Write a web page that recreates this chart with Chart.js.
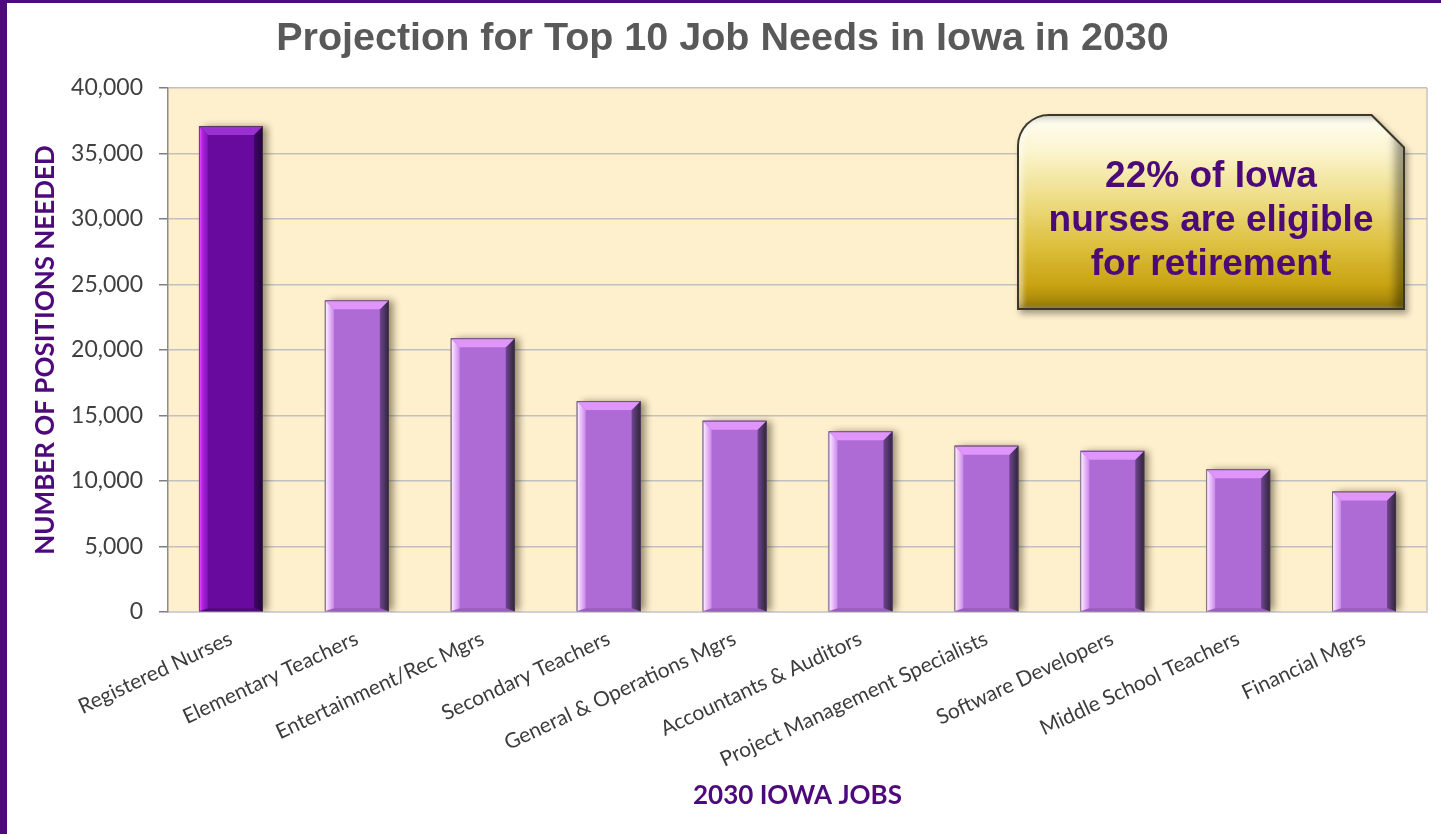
<!DOCTYPE html>
<html>
<head>
<meta charset="utf-8">
<title>Projection for Top 10 Job Needs in Iowa in 2030</title>
<script src="https://cdn.jsdelivr.net/npm/chart.js@4.4.1/dist/chart.umd.min.js"></script>
<style>
  html, body { margin: 0; padding: 0; background: #fff; }
  body { width: 1441px; height: 834px; position: relative; overflow: hidden; }
  #wrap { position: absolute; left: 0; top: 0; width: 1441px; height: 834px; }
  #frame {
    position: absolute; left: 0; top: 0; width: 1441px; height: 834px;
    box-sizing: border-box; border-left: 7px solid #4e0a7c; border-top: 3px solid #4e0a7c;
    pointer-events: none;
  }
  .callout-shadow {
    position: absolute; left: 1017px; top: 114px; width: 388px; height: 196px;
    filter: drop-shadow(3px 4px 3px rgba(0, 0, 0, 0.35));
  }
  .callout {
    width: 100%; height: 100%; box-sizing: border-box; padding: 2px;
    background: #3b382a;
    border-top-left-radius: 32px;
    clip-path: polygon(0 0, calc(100% - 33px) 0, 100% 33px, 100% 100%, 0 100%);
  }
  .callout-inner {
    width: 100%; height: 100%; box-sizing: border-box;
    border-top-left-radius: 30px;
    clip-path: polygon(0 0, calc(100% - 32px) 0, 100% 32px, 100% 100%, 0 100%);
    background: linear-gradient(to bottom, #fffef4 0%, #fbf5d0 18%, #eddb80 45%, #dcbf3c 68%, #c9a312 88%, #9c7e06 100%);
    box-shadow: inset -8px 0 9px rgba(0, 0, 0, 0.38), inset 4px 0 5px rgba(255, 255, 255, 0.5);
    display: flex; align-items: center; justify-content: center;
    padding-top: 14px;
    font: 700 37px "Liberation Sans", Arial, sans-serif;
    line-height: 44px; color: #4b0a78; text-align: center;
  }
</style>
</head>
<body>
<div id="wrap"><canvas id="jobsChart" width="1441" height="834"></canvas></div>
<div class="callout-shadow">
  <div class="callout">
    <div class="callout-inner">22% of Iowa<br>nurses are eligible<br>for retirement</div>
  </div>
</div>
<div id="frame"></div>
<script>
// dados
const jobLabels = [
  "Registered Nurses",
  "Elementary Teachers",
  "Entertainment/Rec Mgrs",
  "Secondary Teachers",
  "General & Operations Mgrs",
  "Accountants & Auditors",
  "Project Management Specialists",
  "Software Developers",
  "Middle School Teachers",
  "Financial Mgrs",
];
const positionsNeeded = [37100, 23800, 20900, 16100, 14600, 13800, 12700, 12300, 10900, 9200];
const yTickValues = [0, 5000, 10000, 15000, 20000, 25000, 30000, 35000, 40000];

const DARK_PURPLE = "#670a9d";
const LIGHT_PURPLE = "#ae6bd6";
const barFills = positionsNeeded.map((v, i) => (i === 0 ? DARK_PURPLE : LIGHT_PURPLE));

const bevelPalette = {
  dark: { top: "#9a2fd2", left: ["#ff5cff", "#b324e3", "#7c12b3"], right: ["#3d0868", "#240438"], bottom: "#52087f" },
  light: { top: "#df95fa", left: ["#ffffff", "#f2cbff", "#c88ae8"], right: ["#6e4690", "#2f2338"], bottom: "#9a5cc2" },
};

const plotBackground = {
  id: "plotBackground",
  beforeDraw(chart) {
    const { ctx, chartArea } = chart;
    ctx.save();
    ctx.fillStyle = "#fef0cd";
    ctx.fillRect(chartArea.left, chartArea.top, chartArea.right - chartArea.left, chartArea.bottom - chartArea.top);
    ctx.strokeStyle = "#c4c4c4";
    ctx.lineWidth = 1.5;
    ctx.beginPath();
    ctx.moveTo(chartArea.right, chartArea.top);
    ctx.lineTo(chartArea.right, chartArea.bottom);
    ctx.stroke();
    ctx.restore();
  },
};

const bevelBars = {
  id: "bevelBars",
  beforeDatasetsDraw(chart) {
    const { ctx, chartArea } = chart;
    const meta = chart.getDatasetMeta(0);
    ctx.save();
    ctx.beginPath();
    ctx.rect(chartArea.left, chartArea.top, chartArea.right - chartArea.left, chartArea.bottom - chartArea.top);
    ctx.clip();
    meta.data.forEach((bar) => {
      const { x, y, base, width } = bar.getProps(["x", "y", "base", "width"], true);
      ctx.shadowColor = "rgba(50, 40, 20, 0.55)";
      ctx.shadowBlur = 7;
      ctx.shadowOffsetX = 5;
      ctx.shadowOffsetY = 0;
      ctx.fillStyle = "rgba(60, 50, 40, 0.9)";
      ctx.fillRect(x - width / 2, y, width, base - y);
    });
    ctx.restore();
  },
  afterDatasetsDraw(chart) {
    const ctx = chart.ctx;
    const meta = chart.getDatasetMeta(0);
    ctx.save();
    meta.data.forEach((bar, i) => {
      const { x, y, base, width } = bar.getProps(["x", "y", "base", "width"], true);
      const pal = i === 0 ? bevelPalette.dark : bevelPalette.light;
      const L = x - width / 2, R = x + width / 2, T = y, B = base;
      const b = Math.round(width * 0.14);
      const bb = 3; // bevel de baixo, mais fino

      const poly = (pts, fill) => {
        ctx.beginPath();
        ctx.moveTo(pts[0][0], pts[0][1]);
        for (let k = 1; k < pts.length; k++) ctx.lineTo(pts[k][0], pts[k][1]);
        ctx.closePath();
        ctx.fillStyle = fill;
        ctx.fill();
      };

      poly([[L, B], [R, B], [R - b, B - bb], [L + b, B - bb]], pal.bottom);

      const gl = ctx.createLinearGradient(L, 0, L + b, 0);
      gl.addColorStop(0, pal.left[0]);
      gl.addColorStop(0.35, pal.left[1]);
      gl.addColorStop(1, pal.left[2]);
      poly([[L, T], [L + b, T + b], [L + b, B - bb], [L, B]], gl);

      const gr = ctx.createLinearGradient(R - b, 0, R, 0);
      gr.addColorStop(0, pal.right[0]);
      gr.addColorStop(1, pal.right[1]);
      poly([[R, T], [R, B], [R - b, B - bb], [R - b, T + b]], gr);

      poly([[L, T], [R, T], [R - b, T + b], [L + b, T + b]], pal.top);

      ctx.strokeStyle = "rgba(70, 60, 70, 0.75)";
      ctx.lineWidth = 1;
      ctx.beginPath();
      ctx.moveTo(L + 0.5, B);
      ctx.lineTo(L + 0.5, T + 0.5);
      ctx.lineTo(R - 0.5, T + 0.5);
      ctx.lineTo(R - 0.5, B);
      ctx.stroke();
    });
    ctx.restore();
  },
};

const ctx = document.getElementById("jobsChart").getContext("2d");
new Chart(ctx, {
  type: "bar",
  data: {
    labels: jobLabels,
    datasets: [
      {
        label: "Positions Needed",
        data: positionsNeeded,
        backgroundColor: barFills,
        borderWidth: 0,
        barPercentage: 0.508,
        categoryPercentage: 1.0,
      },
    ],
  },
  options: {
    responsive: false,
    animation: false,
    layout: { padding: { left: 18, right: 14, top: 0, bottom: 0 } },
    plugins: {
      legend: { display: false },
      tooltip: { enabled: false },
      title: {
        display: true,
        text: "Projection for Top 10 Job Needs in Iowa in 2030",
        color: "#595959",
        font: { family: "'Liberation Sans', Arial, sans-serif", size: 39.5, weight: "bold" },
        padding: { top: 15.8, bottom: 24.8 },
      },
    },
    scales: {
      x: {
        grid: { display: false, drawTicks: false },
        border: { display: true, color: "#d0d0d0", width: 2 },
        ticks: {
          autoSkip: false,
          maxRotation: 25,
          minRotation: 25,
          padding: 14,
          color: "#3c3c3c",
          font: { family: "Lato, 'Open Sans', sans-serif", size: 21 },
        },
        title: {
          display: true,
          text: "2030 IOWA JOBS",
          color: "#4e0a7c",
          font: { family: "Lato, 'Open Sans', sans-serif", size: 26, weight: "bold" },
          padding: { top: 0, bottom: 22.4 },
        },
        afterFit(scale) {
          scale.height = 222;
        },
      },
      y: {
        min: 0,
        max: 40000,
        afterBuildTicks(scale) {
          scale.ticks = yTickValues.map((v) => ({ value: v }));
        },
        grid: { color: "#c0c0c0", lineWidth: 1.5, tickLength: 9, tickColor: "#7f7f7f" },
        border: { display: true, color: "#8c8c8c", width: 1.5 },
        ticks: {
          padding: 16,
          color: "#404040",
          font: { family: "Lato, 'Open Sans', sans-serif", size: 23 },
          callback: (v) => Number(v).toLocaleString("en-US"),
        },
        title: {
          display: true,
          text: "NUMBER OF POSITIONS NEEDED",
          color: "#4e0a7c",
          font: { family: "Lato, 'Open Sans', sans-serif", size: 26, weight: "bold" },
          padding: { top: 12.4, bottom: 0 },
        },
        afterFit(scale) {
          scale.width = 150;
        },
      },
    },
  },
  plugins: [plotBackground, bevelBars],
});
</script>
</body>
</html>
